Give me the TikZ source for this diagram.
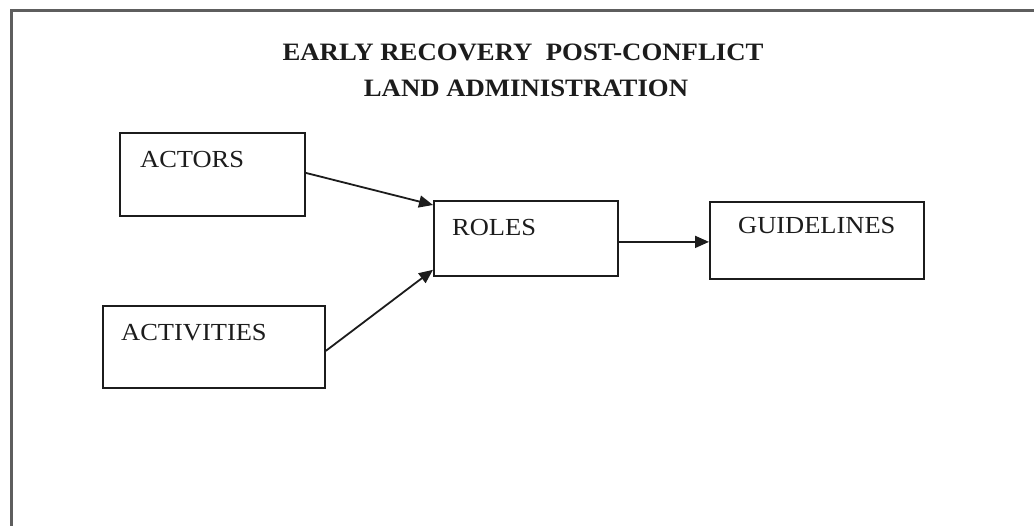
\documentclass[tikz,border=0pt]{standalone}
\usepackage{fontspec}
\setmainfont{Liberation Serif}
\usetikzlibrary{arrows.meta}
\definecolor{framegray}{HTML}{5E5E5E}
\definecolor{ink}{HTML}{1C1C1C}
\tikzset{
  stagebox/.style={draw=ink, line width=1.8pt, rectangle, inner sep=0pt, anchor=north west},
  boxlabel/.style={text=ink, inner sep=0pt, anchor=base west,
    font=\fontsize{24.5}{30}\selectfont},
  titletext/.style={text=ink, inner sep=0pt, anchor=base,
    font=\fontsize{25}{30}\selectfont\bfseries},
  link/.style={draw=ink, line width=1.8pt, -{Triangle[length=14pt,width=12pt]}},
  frameline/.style={draw=framegray, line width=2.6pt}
}
\begin{document}
\begin{tikzpicture}[x=1pt, y=-1pt]
  \useasboundingbox (0,0) rectangle (1034,526);
  \fill[white] (0,0) rectangle (1034,526);

  % outer frame, open towards the right and bottom edges
  \draw[frameline] (11.3,530) -- (11.3,10.5) -- (1040,10.5);

  % heading
  \node[titletext] (title1) at (523,61) {\scalebox{1.07}[1]{EARLY RECOVERY\ \ POST-CONFLICT}};
  \node[titletext] (title2) at (526,97) {\scalebox{1.07}[1]{LAND ADMINISTRATION}};

  % boxes
  \node[stagebox, minimum width=185pt, minimum height=83pt] (actors) at (119,132) {};
  \node[stagebox, minimum width=222pt, minimum height=82pt] (activities) at (102,305) {};
  \node[stagebox, minimum width=184pt, minimum height=75pt] (roles) at (433,200) {};
  \node[stagebox, minimum width=214pt, minimum height=77pt] (guidelines) at (709,201) {};

  % box texts
  \node[boxlabel] (tactors) at (140,168) {\scalebox{1.08}[1]{ACTORS}};
  \node[boxlabel] (tactivities) at (121,341) {\scalebox{1.08}[1]{ACTIVITIES}};
  \node[boxlabel] (troles) at (452,236) {\scalebox{1.08}[1]{ROLES}};
  \node[boxlabel] (tguidelines) at (738,234) {\scalebox{1.08}[1]{GUIDELINES}};

  % connectors
  \draw[link] ([yshift=1.5pt]actors.east) -- ([yshift=-5pt]roles.north west);
  \draw[link] ([yshift=-4pt]activities.east) -- ([yshift=7pt]roles.south west);
  \draw[link] ([yshift=-3.5pt]roles.east) -- ([yshift=-1.5pt]guidelines.west);
\end{tikzpicture}
\end{document}
